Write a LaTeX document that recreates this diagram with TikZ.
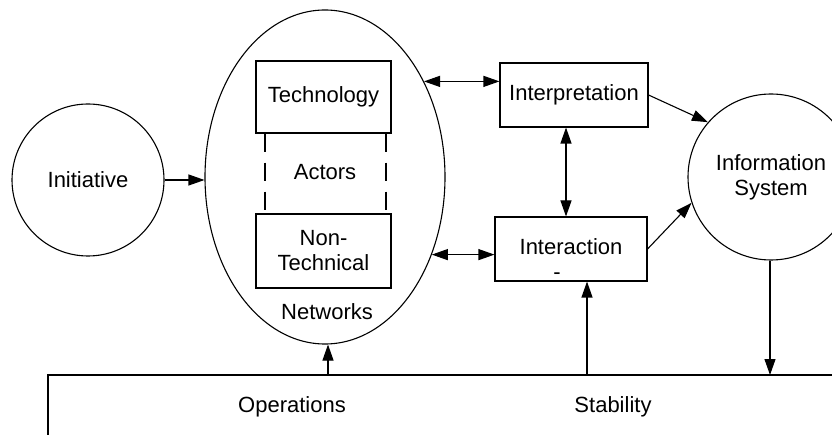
\documentclass[tikz,border=0pt]{standalone}
\usepackage{fontspec}
\setmainfont{Liberation Sans}
\usetikzlibrary{shapes.geometric}
\usetikzlibrary{arrows.meta}
\tikzset{>={Triangle[width=11pt,length=16pt]}}

\begin{document}
\begin{tikzpicture}[x=1pt,y=-1pt,line width=1.1pt,every node/.style={font=\fontsize{22}{25}\selectfont}]
		\clip (0,0) rectangle (832,435);
		\begin{scope}
			%iniziativa
			\node[circle,draw,inner sep=0,minimum size=152pt] (init) at (88,180) {Initiative};
			%reti
			\node[ellipse,draw,inner sep=0,minimum width=240pt,minimum height=334pt] (net) at (325,177) {};
			\node (netlbl) at (327,312) {Networks};
			\node[draw,minimum width=135pt,minimum height=72pt] (tech) at (323.5,97) {Technology};
			\node[draw,align=center,minimum width=135pt,minimum height=74pt] (nontech) at (323.5,251) {Non-\\Technical};
			\node (act) at (325,172) {Actors};
			\draw[dash pattern=on 18pt off 11pt] ([xshift=-58.5pt]tech.south) -- ([xshift=-58.5pt]nontech.north);
			\draw[dash pattern=on 18pt off 11pt] ([xshift=62.5pt]tech.south) -- ([xshift=62.5pt]nontech.north);
			%interpretazione e interazione
			\node[draw,minimum width=148pt,minimum height=64pt] (intp) at (574,95) {Interpretation};
			\node[draw,minimum width=152pt,minimum height=64pt] (intr) at (571,249) {};
			\node[align=center,inner sep=0] (intrtxt) at (571,259.5) {Interaction\\-\hspace*{28pt}};
			%sistema informativo
			\node[circle,draw,align=center,inner sep=0,minimum size=166pt] (info) at (771,177) {Information\\System};
			%base
			\draw (48,435) -- (48,375) -- (832,375);
			\node (ops) at (292,407) {Operations};
			\node (stab) at (613,407) {Stability};
			\coordinate (opsup) at (328,375);
			\coordinate (stabup) at (587,375);
			\coordinate (infodown) at (770,375);
			%frecce
			\begin{scope}
				\draw[arrows=->] (init.east) -- (init.east -| net.west);
				\draw[arrows=<->] (net.44.4) -- (net.44.4 -| intp.west);
				\draw[arrows=<->] (net.-36.3) -- (net.-36.3 -| intr.west);
				\draw[arrows=<->] ([xshift=-8pt]intp.south) -- ([xshift=-8pt]intp.south |- intr.north);
				\draw[arrows=->] (intp.east) -- (info.139);
				\draw[arrows=->] (intr.east) -- (info.198);
				\draw[arrows=->] (info.south -| infodown) -- (infodown);
				\draw[arrows=->] (opsup) -- (opsup |- net.south);
				\draw[arrows=->] (stabup) -- (stabup |- intr.south);
			\end{scope}
		\end{scope}
	\end{tikzpicture}
\end{document}
